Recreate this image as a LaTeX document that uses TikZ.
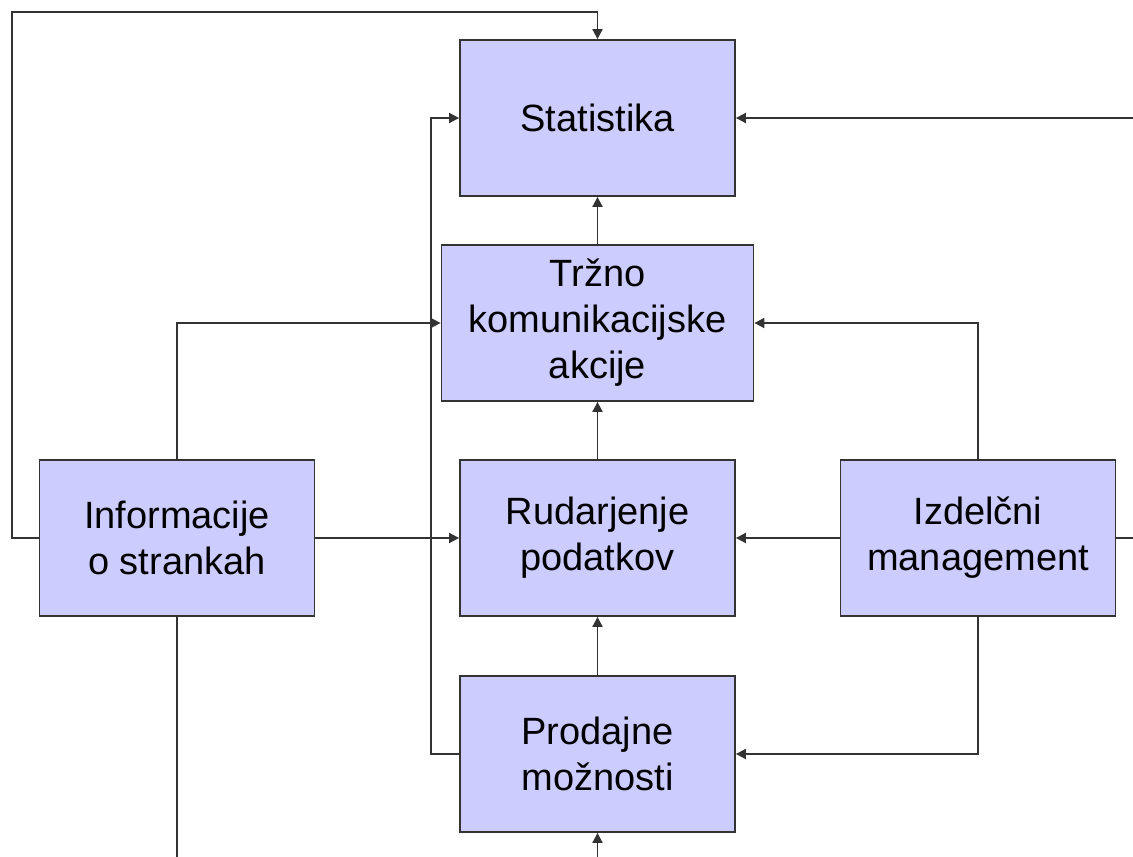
\documentclass[tikz,border=0pt]{standalone}
\usepackage{fontspec}
\setmainfont{Liberation Sans}
\usetikzlibrary{arrows.meta}
\definecolor{boxfill}{RGB}{204,204,255}
\definecolor{linegray}{RGB}{51,51,51}
\begin{document}
\begin{tikzpicture}[x=1pt,y=-1pt,
  box/.style={draw=linegray,line width=1.8pt,fill=boxfill,minimum width=275pt,minimum height=156pt,
    align=center,inner sep=0pt,font=\fontsize{38}{46}\selectfont},
  conn/.style={draw=linegray,line width=1.8pt},
  arr/.style={conn,-{Triangle[length=10pt,width=10pt]}}]
\useasboundingbox (0,0) rectangle (1133,857);
% boxes
\node[box] (stat) at (597.5,118) {Statistika};
\node[box,minimum width=312pt] (trz) at (597.5,323) {Tržno\\komunikacijske\\akcije};
\node[box] (rud) at (597.5,538) {Rudarjenje\\podatkov};
\node[box] (info) at (177,538) {Informacije\\o strankah};
\node[box] (izd) at (978,538) {Izdelčni\\management};
\node[box] (prod) at (597.5,754) {Prodajne\\možnosti};
% free ends
\coordinate (outstat) at (1133,118);
\coordinate (outizd) at (1133,538);
\coordinate (outinfo) at (177,857);
\coordinate (inprod) at (597.5,857);
% connectors
\draw[arr] (info.west) -| (12,12) -| (stat.north);
\draw[arr] (outstat) -- (stat.east);
\draw[arr] (prod.west) -| (431,118) -- (stat.west);
\draw[arr] (trz.north) -- (stat.south);
\draw[arr] (info.north) |- (trz.west);
\draw[arr] (izd.north) |- (trz.east);
\draw[arr] (rud.north) -- (trz.south);
\draw[arr] (info.east) -- (rud.west);
\draw[arr] (izd.west) -- (rud.east);
\draw[conn] (izd.east) -- (outizd);
\draw[arr] (prod.north) -- (rud.south);
\draw[arr] (izd.south) |- (prod.east);
\draw[conn] (info.south) -- (outinfo);
\draw[arr] (inprod) -- (prod.south);
\end{tikzpicture}
\end{document}
